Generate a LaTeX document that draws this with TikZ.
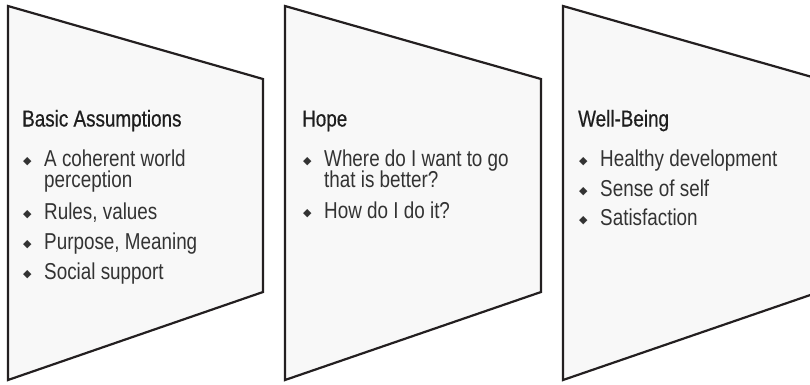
\documentclass[tikz,border=0pt]{standalone}
\usepackage{fontspec}
\setmainfont[FakeStretch=0.82]{Liberation Sans}
\newfontfamily\headfont[FakeStretch=0.82,FakeBold=0.6]{Liberation Sans}
\newfontfamily\symfont{DejaVu Sans}
\usepackage{tikz}
\usetikzlibrary{positioning}
\definecolor{Edge}{HTML}{231F20}
\definecolor{Sheet}{HTML}{F8F8F8}
\definecolor{Ink}{HTML}{333333}
\definecolor{Head}{HTML}{1E1E1E}
\newcommand{\blt}{\makebox[22pt][l]{\hspace{1pt}\raisebox{1.8pt}{\symfont\fontsize{11}{11}\selectfont ◆}}}

\begin{document}
\begin{tikzpicture}[x=1pt, y=-1pt, panel/.style={draw=Edge,line width=2.2pt,fill=Sheet,line join=miter}, head/.style={anchor=base west,inner sep=0pt,font=\headfont\fontsize{23}{23}\selectfont,text=Head}, item/.style={anchor=base west,inner sep=0pt,font=\fontsize{23}{23}\selectfont,text=Ink}]
\useasboundingbox (0,0) rectangle (810,384);
\clip (0,0) rectangle (810,384);
% the three funnels
\draw[panel] (8,6) -- (263,79) -- (263,292) -- (8,380) -- cycle;
\draw[panel] (285,6) -- (541,79) -- (541,292) -- (285,380) -- cycle;
\draw[panel] (563,6) -- (819,79) -- (819,292) -- (563,380) -- cycle;
% basic assumptions
\node[head] (h1) at (22,126.5) {Basic Assumptions};
\node[item] (a1) at (22,166.5) {\blt A coherent world};
\node[item] (a1b) at (44,187.5) {perception};
\node[item] (a2) at (22,219.5) {\blt Rules, values};
\node[item] (a3) at (22,249.5) {\blt Purpose, Meaning};
\node[item] (a4) at (22,279.5) {\blt Social support};
% hope
\node[head] (h2) at (302,126.5) {Hope};
\node[item] (b1) at (302,166.5) {\blt Where do I want to go};
\node[item] (b1b) at (324,187.5) {that is better?};
\node[item] (b2) at (302,218.5) {\blt How do I do it?};
% well-being
\node[head] (h3) at (578,126.5) {Well-Being};
\node[item] (c1) at (578,166.5) {\blt Healthy development};
\node[item] (c2) at (578,196) {\blt Sense of self};
\node[item] (c3) at (578,225.5) {\blt Satisfaction};
\end{tikzpicture}
\end{document}
